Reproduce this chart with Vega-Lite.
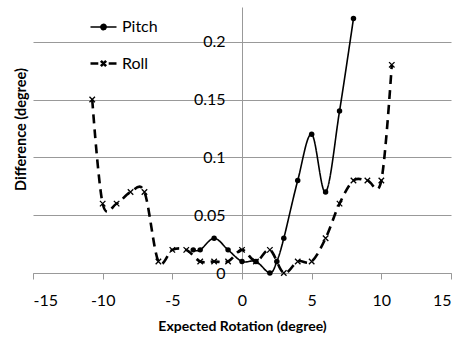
{
  "$schema": "https://vega.github.io/schema/vega-lite/v6.json",
  "width": 418,
  "height": 266,
  "autosize": "none",
  "padding": {"left": 33, "top": 7, "right": 9, "bottom": 64},
  "config": {
    "font": "Lato",
    "view": {"stroke": null},
    "axis": {"labelColor": "#000", "titleColor": "#000", "labelFont": "Lato", "titleFont": "Lato"},
    "legend": {"labelColor": "#000", "labelFont": "Lato"}
  },
  "data": {
    "values": [
      {"x": -3.5, "y": 0.02, "series": "Pitch"},
      {"x": -3, "y": 0.02, "series": "Pitch"},
      {"x": -2, "y": 0.03, "series": "Pitch"},
      {"x": -1, "y": 0.02, "series": "Pitch"},
      {"x": 0, "y": 0.01, "series": "Pitch"},
      {"x": 1, "y": 0.01, "series": "Pitch"},
      {"x": 2, "y": 0, "series": "Pitch"},
      {"x": 2.5, "y": 0.01, "series": "Pitch"},
      {"x": 3, "y": 0.03, "series": "Pitch"},
      {"x": 4, "y": 0.08, "series": "Pitch"},
      {"x": 5, "y": 0.12, "series": "Pitch"},
      {"x": 6, "y": 0.07, "series": "Pitch"},
      {"x": 7, "y": 0.14, "series": "Pitch"},
      {"x": 8, "y": 0.22, "series": "Pitch"},
      {"x": -10.75, "y": 0.15, "series": "Roll"},
      {"x": -10, "y": 0.06, "series": "Roll"},
      {"x": -9, "y": 0.06, "series": "Roll"},
      {"x": -8, "y": 0.07, "series": "Roll"},
      {"x": -7, "y": 0.07, "series": "Roll"},
      {"x": -6, "y": 0.01, "series": "Roll"},
      {"x": -5, "y": 0.02, "series": "Roll"},
      {"x": -4, "y": 0.02, "series": "Roll"},
      {"x": -3, "y": 0.01, "series": "Roll"},
      {"x": -2, "y": 0.01, "series": "Roll"},
      {"x": -1, "y": 0.01, "series": "Roll"},
      {"x": 0, "y": 0.02, "series": "Roll"},
      {"x": 1, "y": 0.01, "series": "Roll"},
      {"x": 2, "y": 0.02, "series": "Roll"},
      {"x": 3, "y": 0, "series": "Roll"},
      {"x": 4, "y": 0.01, "series": "Roll"},
      {"x": 5, "y": 0.01, "series": "Roll"},
      {"x": 6, "y": 0.03, "series": "Roll"},
      {"x": 7, "y": 0.06, "series": "Roll"},
      {"x": 8, "y": 0.08, "series": "Roll"},
      {"x": 9, "y": 0.08, "series": "Roll"},
      {"x": 10, "y": 0.08, "series": "Roll"},
      {"x": 10.75, "y": 0.18, "series": "Roll"}
    ]
  },
  "encoding": {
    "x": {
      "field": "x", "type": "quantitative",
      "scale": {"domain": [-15, 15], "nice": false, "zero": false},
      "axis": {
        "values": [-15, -10, -5, 0, 5, 10, 15],
        "labelExpr": "'' + datum.value",
        "grid": false,
        "tickSize": 6, "tickColor": "#999", "domainColor": "#999",
        "labelFontSize": 16, "labelBaseline": "middle", "labelPadding": 21,
        "title": "Expected Rotation (degree)",
        "titleFontSize": 14, "titleFontWeight": "bold",
        "titleX": 209, "titleAlign": "center",
        "titleY": 53, "titleBaseline": "middle"
      }
    }
  },
  "layer": [
    {
      "mark": {"type": "line", "interpolate": "cardinal", "color": "#000"},
      "encoding": {
        "y": {
          "field": "y", "type": "quantitative",
          "scale": {"domain": [0, 0.23], "nice": false},
          "axis": {
            "orient": "left",
            "values": [0, 0.05, 0.1, 0.15, 0.2],
            "grid": true, "gridColor": "#999",
            "labels": false, "ticks": false, "domain": false,
            "title": "Difference (degree)",
            "titleFontSize": 14.5, "titleFontWeight": "bold",
            "titleX": -11.5, "titleY": 122,
            "titleAngle": -90, "titleAlign": "center", "titleBaseline": "middle"
          }
        },
        "strokeDash": {
          "field": "series", "type": "nominal",
          "scale": {"domain": ["Pitch", "Roll"], "range": [[1, 0], [9, 6]]},
          "legend": {
            "orient": "none", "legendX": 56, "legendY": 6,
            "title": null, "padding": 0,
            "symbolSize": 676, "rowPadding": 14, "labelOffset": 4,
            "labelFontSize": 16,
            "symbolFillColor": "#000", "symbolStrokeColor": "#000",
            "encode": {
              "symbols": {
                "update": {
                  "shape": {"signal": "datum.value === 'Pitch' ? 'M-1,0H1M-0.2,0A0.2,0.2 0 1,0 0.2,0A0.2,0.2 0 1,0 -0.2,0Z' : 'M-1,0H-0.4M0.4,0H1M-0.2,-0.2L0.2,0.2M-0.2,0.2L0.2,-0.2'"},
                  "strokeDash": {"value": [1, 0]},
                  "fill": {"value": "#000"},
                  "stroke": {"value": "#000"},
                  "strokeWidth": {"signal": "datum.value === 'Pitch' ? 1.5 : 2.5"}
                }
              }
            }
          }
        },
        "strokeWidth": {
          "field": "series", "type": "nominal",
          "scale": {"domain": ["Pitch", "Roll"], "range": [1.6, 2.6]},
          "legend": null
        }
      }
    },
    {
      "transform": [{"filter": "datum.series === 'Pitch'"}],
      "mark": {"type": "point", "shape": "circle", "filled": true, "color": "#000", "size": 30, "opacity": 1},
      "encoding": {
        "y": {
          "field": "y", "type": "quantitative",
          "scale": {"domain": [0, 0.23], "nice": false},
          "axis": {
            "orient": "left",
            "offset": -209,
            "values": [0, 0.05, 0.1, 0.15, 0.2],
            "labelExpr": "'' + datum.value",
            "grid": false, "ticks": false, "tickSize": 0,
            "domain": true, "domainColor": "#999",
            "labelFontSize": 16, "labelPadding": 17,
            "title": null
          }
        }
      }
    },
    {
      "transform": [{"filter": "datum.series === 'Roll'"}],
      "mark": {"type": "point", "shape": "M-1,-1L1,1M-1,1L1,-1", "filled": false, "stroke": "#000", "strokeWidth": 1.3, "size": 30, "opacity": 1},
      "encoding": {
        "y": {
          "field": "y", "type": "quantitative",
          "scale": {"domain": [0, 0.23], "nice": false},
          "axis": null
        }
      }
    }
  ],
  "resolve": {"axis": {"y": "independent"}}
}
